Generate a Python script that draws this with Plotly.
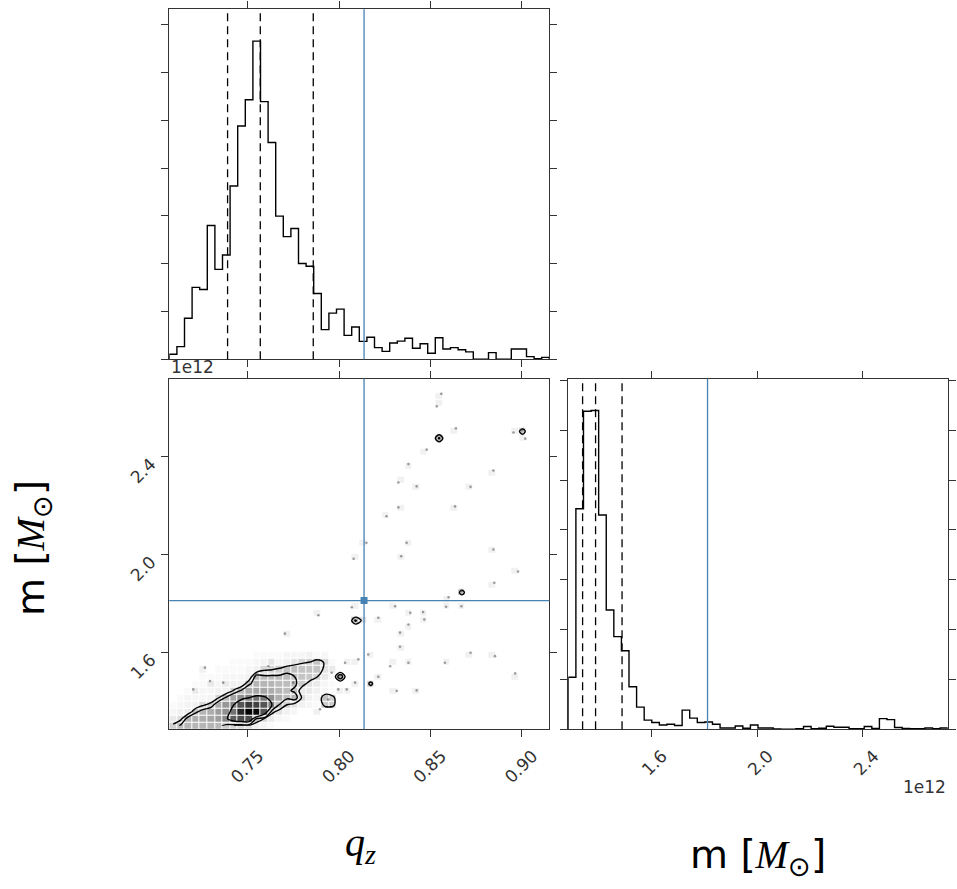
import numpy as np
import plotly.graph_objects as go

# ---------------- data ----------------
Q_RANGE = [0.7071, 0.9151]          # q_z axis range
M_RANGE = [1.287, 2.720]            # m axis range, units of 1e12 Msun
N_BINS = 50

q_hist_counts = [2.1, 5.3, 17.2, 30.1, 29.2, 56.0, 37.6, 43.6, 72.5, 97.6,
                 108.6, 133.1, 107.8, 90.7, 59.9, 51.3, 54.7, 40.1, 38.9, 27.5,
                 12.4, 19.3, 21.0, 10.0, 13.5, 7.5, 9.2, 4.9, 3.3, 6.8,
                 7.6, 8.8, 4.6, 6.5, 2.5, 9.0, 4.3, 4.9, 4.0, 3.1,
                 0.0, 0.0, 2.8, 0.0, 0.0, 4.3, 4.3, 1.1, 0.3, 0.8]

m_hist_counts = [20.9, 88.5, 127.6, 127.9, 86.0, 47.9, 37.2, 31.5, 17.1, 8.9,
                 3.7, 2.7, 1.7, 2.0, 1.5, 7.7, 4.5, 2.7, 2.9, 2.0,
                 0.5, 0.5, 1.3, 0.4, 1.7, 0.5, 0.5, 0.1, 0.0, 0.0,
                 0.2, 1.1, 0.2, 0.4, 1.2, 0.8, 0.8, 0.2, 0.2, 1.1,
                 0.3, 4.3, 3.9, 0.7, 0.3, 0.2, 0.2, 0.5, 0.2, 0.5]

q_quantiles = [0.7390, 0.7569, 0.7859]
m_quantiles = [1.341, 1.390, 1.490]
q_truth = 0.8137
m_truth = 1.813

q_ticks = [0.75, 0.80, 0.85, 0.90]
q_tick_labels = ["0.75", "0.80", "0.85", "0.90"]
m_ticks = [1.6, 2.0, 2.4]
m_tick_labels = ["1.6", "2.0", "2.4"]
count_tick_step = 20

# 2D histogram, dense core (rows = m bins from bottom, cols = q bins from left)
core_counts = [
    [3.5, 6, 6.5, 7, 7, 7, 6.5, 4, 3, 2.6, 2.2, 1.2, 0.6, 0.3, 0, 0, 0, 0, 0, 0, 0, 0],
    [1.5, 2.3, 7, 8, 8, 9, 10, 13, 19, 22, 22, 5, 2.8, 1.5, 0.5, 0.3, 0, 0, 0, 0, 0, 0],
    [0.5, 1, 1.3, 5, 7, 8, 10, 12, 16, 30, 40, 38, 20, 3.6, 2, 1, 0.5, 0, 0, 0, 0, 0],
    [0.3, 0.5, 0.8, 1, 2.6, 4, 8, 11, 14, 20, 26, 24, 20, 14, 5.3, 3, 2, 1, 0.5, 0.3, 0, 0],
    [0, 0.3, 0.5, 0.5, 0.5, 0.7, 3, 6, 9, 12, 14, 16, 15, 12, 8, 6, 7, 2.5, 1, 0.5, 0.3, 0],
    [0, 0, 0.3, 0.5, 0.5, 0.5, 1, 1, 3.3, 6, 8, 9, 9, 8, 7, 6, 5, 1.5, 1.5, 1, 0.5, 0.3],
    [0, 0, 0, 0.3, 0.3, 0.5, 0.5, 0.5, 1, 1, 5, 7, 7, 7, 6, 6, 5, 4, 2, 1.5, 0.5, 0.3],
    [0, 0, 0, 0, 0.3, 0.3, 0.3, 0.5, 0.5, 0.5, 1, 5, 6, 6, 6, 6, 5.5, 5, 4.5, 3, 1.5, 0.3],
    [0, 0, 0, 0, 0, 0, 0.3, 0.3, 0.3, 0.3, 0.5, 1, 2.7, 3, 3.6, 5, 5.5, 5, 5, 5, 2, 0.5],
    [0, 0, 0, 0, 0, 0, 0, 0, 0.3, 0.3, 0.3, 0.5, 0.8, 1, 0.6, 1, 1.9, 2.8, 3.2, 5, 2.5, 0.3],
    [0, 0, 0, 0, 0, 0, 0, 0, 0, 0, 0, 0.3, 0.3, 0.3, 0.3, 0.5, 0.5, 0.5, 1, 0.3, 0.5, 0],
]

# isolated samples outside the core
sample_q = [0.856, 0.864, 0.900, 0.8955, 0.902, 0.848, 0.838, 0.8325, 0.8425, 0.872,
            0.8845, 0.8635, 0.8325, 0.826, 0.837, 0.815, 0.808, 0.834, 0.8845, 0.898,
            0.885, 0.8668, 0.860, 0.867, 0.8586, 0.8307, 0.839, 0.846, 0.8467, 0.807,
            0.8215, 0.7887, 0.838, 0.8334, 0.7704, 0.816, 0.8334, 0.838, 0.858, 0.8854,
            0.872, 0.8964, 0.8425, 0.8316, 0.828, 0.8215, 0.8088, 0.8042, 0.7202, 0.7294,
            0.7366, 0.7266, 0.755, 0.7613, 0.775, 0.7896, 0.8535, 0.796, 0.8033, 0.8106,
            0.7996, 0.7941, 0.754]
sample_m = [2.658, 2.517, 2.509, 2.500, 2.475, 2.430, 2.371, 2.296, 2.280, 2.278,
            2.345, 2.198, 2.194, 2.158, 2.049, 2.049, 1.984, 1.994, 2.022, 1.932,
            1.886, 1.851, 1.827, 1.790, 1.788, 1.790, 1.763, 1.766, 1.736, 1.786,
            1.743, 1.753, 1.7155, 1.682, 1.678, 1.593, 1.6245, 1.559, 1.559, 1.586,
            1.600, 1.5155, 1.446, 1.444, 1.545, 1.502, 1.4776, 1.450, 1.450, 1.484,
            1.4776, 1.539, 1.5114, 1.545, 1.4776, 1.369, 2.607, 1.518, 1.559, 1.573,
            1.450, 1.409, 1.511]

# small clumps of samples (produce the isolated small contours)
clump_q = [0.8544, 0.9001, 0.8668, 0.809, 0.813, 0.801, 0.817, 0.7924, 0.7966, 0.7924, 0.7966]
clump_m = [2.476, 2.509, 1.851, 1.739, 1.739, 1.502, 1.482, 1.3873, 1.3873, 1.416, 1.416]
clump_w = [6, 3.5, 3.5, 6, 2, 8, 4, 4, 4, 4, 4]

contour_levels = [3, 5.5, 14]

# ---------------- build ----------------
q_edges = np.linspace(Q_RANGE[0], Q_RANGE[1], N_BINS + 1)
m_edges = np.linspace(M_RANGE[0], M_RANGE[1], N_BINS + 1)
q_cent = 0.5 * (q_edges[:-1] + q_edges[1:])
m_cent = 0.5 * (m_edges[:-1] + m_edges[1:])

grid = np.zeros((N_BINS, N_BINS))
core = np.array(core_counts, dtype=float)
grid[:core.shape[0], :core.shape[1]] += core
H, _, _ = np.histogram2d(sample_m, sample_q, bins=[m_edges, q_edges])
grid += H
Hc, _, _ = np.histogram2d(clump_m, clump_q, bins=[m_edges, q_edges], weights=clump_w)
grid += Hc

zmax = grid.max()
z_show = [[(v if v > 0 else None) for v in row] for row in grid]

AX = '#333333'
TRUTH = '#4682b4'
FONT = 'DejaVu Sans'

fig = go.Figure()

# 2D density cells
fig.add_trace(go.Heatmap(
    x=q_cent, y=m_cent, z=z_show, xaxis='x2', yaxis='y2',
    zmin=0, zmax=zmax, showscale=False, xgap=1, ygap=1,
    colorscale=[[0, '#ffffff'], [0.0125, '#f6f6f6'], [0.025, '#f1f1f1'], [0.075, '#d4d4d4'],
                [0.15, '#bcbcbc'], [0.35, '#808080'], [0.5, '#555555'],
                [0.75, '#262626'], [1, '#000000']],
    hoverinfo='skip'))

# individual samples
fig.add_trace(go.Scatter(
    x=sample_q, y=sample_m, xaxis='x2', yaxis='y2', mode='markers',
    marker=dict(size=2.6, color='rgba(70,70,70,0.5)'), hoverinfo='skip'))

# contours
for lev in contour_levels:
    fig.add_trace(go.Contour(
        x=q_cent, y=m_cent, z=grid, xaxis='x2', yaxis='y2',
        autocontour=False, contours=dict(start=lev, end=lev, size=1, coloring='none'),
        line=dict(color='black', width=1.4, smoothing=1), showscale=False,
        hoverinfo='skip'))

# 1D histograms (step)
def step(edges, counts):
    xs = [edges[0]] + list(edges)
    ys = [0] + list(counts) + [0]
    return xs, ys

xs, ys = step(q_edges, q_hist_counts)
fig.add_trace(go.Scatter(x=xs, y=ys, xaxis='x', yaxis='y', mode='lines',
                         line=dict(color='black', width=1.4, shape='hv'), hoverinfo='skip'))
xs, ys = step(m_edges, m_hist_counts)
fig.add_trace(go.Scatter(x=xs, y=ys, xaxis='x3', yaxis='y3', mode='lines',
                         line=dict(color='black', width=1.4, shape='hv'), hoverinfo='skip'))

# truth marker
fig.add_trace(go.Scatter(x=[q_truth], y=[m_truth], xaxis='x2', yaxis='y2', mode='markers',
                         marker=dict(symbol='square', size=7, color=TRUTH), hoverinfo='skip'))

shapes = []
for qv in q_quantiles:
    shapes.append(dict(type='line', xref='x', yref='y domain', x0=qv, x1=qv, y0=0, y1=1,
                       line=dict(color='black', width=1.3, dash='8px,5px')))
for mv in m_quantiles:
    shapes.append(dict(type='line', xref='x3', yref='y3 domain', x0=mv, x1=mv, y0=0, y1=1,
                       line=dict(color='black', width=1.3, dash='8px,5px')))
shapes.append(dict(type='line', xref='x', yref='y domain', x0=q_truth, x1=q_truth, y0=0, y1=1,
                   line=dict(color=TRUTH, width=1.3)))
shapes.append(dict(type='line', xref='x2', yref='y2 domain', x0=q_truth, x1=q_truth, y0=0, y1=1,
                   line=dict(color=TRUTH, width=1.3)))
shapes.append(dict(type='line', xref='x2 domain', yref='y2', x0=0, x1=1, y0=m_truth, y1=m_truth,
                   line=dict(color=TRUTH, width=1.3)))
shapes.append(dict(type='line', xref='x3', yref='y3 domain', x0=m_truth, x1=m_truth, y0=0, y1=1,
                   line=dict(color=TRUTH, width=1.3)))

def axis(domain, anchor, rng, tickvals=None, ticktext=None, labels=True, dtick=None,
         angle=None, shift=None, standoff=None):
    d = dict(domain=domain, anchor=anchor, range=rng, showgrid=False, zeroline=False,
             showline=True, linecolor=AX, linewidth=1.2, mirror='ticks',
             ticks='outside', ticklen=7, tickwidth=1, tickcolor=AX,
             showticklabels=labels, tickfont=dict(family=FONT, size=17, color=AX))
    if tickvals is not None:
        d.update(tickmode='array', tickvals=tickvals, ticktext=ticktext)
    if dtick is not None:
        d.update(tickmode='linear', tick0=0, dtick=dtick)
    if angle is not None:
        d.update(tickangle=angle)
    if shift is not None:
        d.update(ticklabelshift=shift)
    if standoff is not None:
        d.update(ticklabelstandoff=standoff)
    return d

XD_L = [169.3 / 957, 549.3 / 957]
XD_R = [568.3 / 957, 947.7 / 957]
YD_T = [1 - 359.3 / 889, 1 - 9.3 / 889]
YD_B = [1 - 729.3 / 889, 1 - 378.7 / 889]

fig.update_layout(
    width=957, height=889, margin=dict(l=0, r=0, t=0, b=0),
    paper_bgcolor='white', plot_bgcolor='white', showlegend=False,
    xaxis=axis(XD_L, 'y', Q_RANGE, q_ticks, q_tick_labels, labels=False),
    yaxis=axis(YD_T, 'x', [0, 1.1 * max(q_hist_counts)], labels=False, dtick=count_tick_step),
    xaxis2=axis(XD_L, 'y2', Q_RANGE, q_ticks, q_tick_labels, angle=-45, shift=11, standoff=2),
    yaxis2=axis(YD_B, 'x2', M_RANGE, m_ticks, m_tick_labels, angle=-45, shift=5, standoff=7),
    xaxis3=axis(XD_R, 'y3', M_RANGE, m_ticks, m_tick_labels, angle=-45, shift=11, standoff=2),
    yaxis3=axis(YD_B, 'x3', [0, 1.1 * max(m_hist_counts)], labels=False, dtick=count_tick_step),
    shapes=shapes,
    annotations=[
        dict(text='1e12', x=XD_L[0], y=YD_B[1], xref='paper', yref='paper',
             xanchor='left', yanchor='bottom', showarrow=False,
             font=dict(family=FONT, size=17, color=AX)),
        dict(text='1e12', x=XD_R[1], y=1 - 787 / 889, xref='paper', yref='paper',
             xanchor='right', yanchor='middle', showarrow=False,
             font=dict(family=FONT, size=17, color=AX)),
        dict(text='<i>q</i><sub><i>z</i></sub>', x=360 / 957, y=1 - 845 / 889,
             xref='paper', yref='paper', xanchor='center', yanchor='middle', showarrow=False,
             font=dict(family='Liberation Serif', size=40, color='black')),
        dict(text='m [<span style="font-family:Liberation Serif"><i>M</i></span><sub>⊙</sub>]',
             x=758 / 957, y=1 - 857 / 889, xref='paper', yref='paper',
             xanchor='center', yanchor='middle', showarrow=False,
             font=dict(family=FONT, size=39, color='black')),
        dict(text='m [<span style="font-family:Liberation Serif"><i>M</i></span><sub>⊙</sub>]',
             x=33 / 957, y=1 - 548 / 889, xref='paper', yref='paper',
             xanchor='center', yanchor='middle', showarrow=False,
             textangle=-90, font=dict(family=FONT, size=39, color='black')),
    ],
)

fig.write_html('out.html', config={'displayModeBar': False},
               post_script="document.body.style.margin='0px';")
